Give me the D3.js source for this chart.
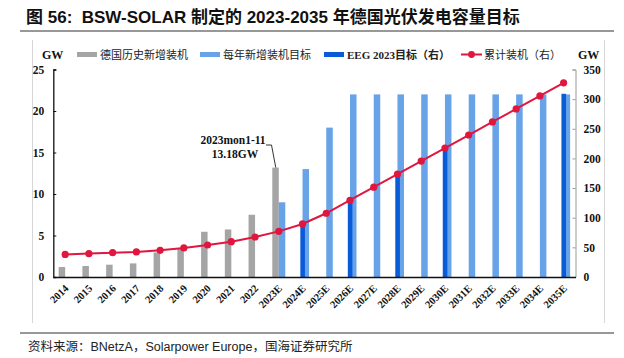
<!DOCTYPE html>
<html><head><meta charset="utf-8">
<script src="https://cdn.jsdelivr.net/npm/d3@7"></script>
<style>
html,body{margin:0;padding:0;background:#fff;}
svg{display:block;}
</style>
</head><body>
<svg id="c" width="624" height="358"></svg>
<script>
const categories = ["2014","2015","2016","2017","2018","2019","2020","2021","2022","2023E","2024E","2025E","2026E","2027E","2028E","2029E","2030E","2031E","2032E","2033E","2034E","2035E"];
const historicalAdds = [1.2,1.33,1.48,1.64,2.96,3.4,5.45,5.73,7.5,13.18,null,null,null,null,null,null,null,null,null,null,null,null];
const annualTargets = [null,null,null,null,null,null,null,null,null,9,13,18,22,22,22,22,22,22,22,22,22,22];
const eegTargets = [null,null,null,null,null,null,null,null,null,null,88,null,128,null,172,null,215,null,null,null,null,309];
const cumulative = [38,39.5,41,42.3,45,49,54,59.6,67.5,77,89.5,107.5,129.5,151.5,173.5,195.5,217.5,239.5,261.5,283.5,305.5,327.5];
const leftTicks = [0,5,10,15,20,25];
const rightTicks = [0,50,100,150,200,250,300,350];
const legendLabels = ["德国历史新增装机","每年新增装机目标","EEG 2023目标（右）","累计装机（右）"];
const titleText = "图 56:  BSW-SOLAR 制定的 2023-2035 年德国光伏发电容量目标";
const sourceText = "资料来源：BNetzA，Solarpower Europe，国海证券研究所";
const annotationLines = ["2023mon1-11","13.18GW"];

const C = {gray:"#a5a5a5", light:"#67a3e6", dark:"#0a5bd8", red:"#e0163f"};
const serif = "'Liberation Serif','Times New Roman',serif";
const cjk = "'Liberation Serif','Noto Sans CJK SC',serif";
const sans = "'Liberation Sans','Noto Sans CJK SC',sans-serif";

const svg = d3.select("#c");
const x0 = 53.3, x1 = 575.5, yBot = 277, yTop = 69.5;
const x = d3.scaleBand().domain(categories).range([x0, x1]).padding(0);
const yL = d3.scaleLinear().domain([0,25]).range([yBot, yTop]);
const yR = d3.scaleLinear().domain([0,350]).range([yBot, yTop]);
const cx = c => x(c) + x.bandwidth()/2;

// title & frame lines
svg.append("text").attr("x",26).attr("y",23).attr("font-family",sans).attr("font-weight","bold")
  .attr("font-size",17).attr("fill","#111").attr("xml:space","preserve").text(titleText);
svg.append("line").attr("x1",20).attr("x2",614).attr("y1",31).attr("y2",31).attr("stroke","#333").attr("stroke-width",1.2);
svg.append("line").attr("x1",20).attr("x2",614).attr("y1",333).attr("y2",333).attr("stroke","#333").attr("stroke-width",1.2);
svg.append("line").attr("x1",32.5).attr("x2",32.5).attr("y1",40).attr("y2",323).attr("stroke","#d6d6d6");
svg.append("line").attr("x1",604.5).attr("x2",604.5).attr("y1",40).attr("y2",323).attr("stroke","#d6d6d6");
svg.append("text").attr("x",28).attr("y",351).attr("font-family",sans).attr("font-size",12.5).attr("fill","#222").text(sourceText);

const bw = 6.5;
// gray historical
svg.append("g").selectAll("rect").data(categories.map((c,i)=>({c,v:historicalAdds[i]})).filter(d=>d.v!=null))
 .join("rect").attr("x",d=>cx(d.c)-bw).attr("width",bw).attr("y",d=>yL(d.v)).attr("height",d=>yBot-yL(d.v)).attr("fill",C.gray);
// light blue targets
svg.append("g").selectAll("rect").data(categories.map((c,i)=>({c,v:annualTargets[i]})).filter(d=>d.v!=null))
 .join("rect").attr("x",d=>cx(d.c)).attr("width",bw).attr("y",d=>yL(d.v)).attr("height",d=>yBot-yL(d.v)).attr("fill",C.light);
// dark blue EEG (right axis)
svg.append("g").selectAll("rect").data(categories.map((c,i)=>({c,v:eegTargets[i]})).filter(d=>d.v!=null))
 .join("rect").attr("x",d=>cx(d.c)-2.2).attr("width",4.6).attr("y",d=>yR(d.v)).attr("height",d=>yBot-yR(d.v)).attr("fill",C.dark);

// axes
const axL = svg.append("g").attr("transform",`translate(${x0},0)`)
  .call(d3.axisRight(yL).tickValues(leftTicks).tickSize(3).tickFormat(d3.format("d")));
axL.select(".domain").attr("stroke","#111").attr("stroke-width",1.3);
axL.selectAll(".tick line").attr("stroke","#111");
axL.selectAll(".tick text").attr("x",-9).attr("text-anchor","end").attr("font-family",serif).attr("font-weight","bold").attr("font-size",11.5).attr("fill","#111");

const axR = svg.append("g").attr("transform",`translate(${x1},0)`)
  .call(d3.axisLeft(yR).tickValues(rightTicks).tickSize(3).tickFormat(d3.format("d")));
axR.select(".domain").attr("stroke","#999");
axR.selectAll(".tick line").attr("stroke","#999");
axR.selectAll(".tick text").attr("x",8).attr("text-anchor","start").attr("font-family",serif).attr("font-weight","bold").attr("font-size",11.5).attr("fill","#111");

const axB = svg.append("g").attr("transform",`translate(0,${yBot})`)
  .call(d3.axisBottom(x).tickSize(0));
axB.select(".domain").attr("stroke","#111").attr("stroke-width",1.3);
axB.selectAll(".tick text").attr("font-family",serif).attr("font-weight","bold").attr("font-size",10.5).attr("fill","#111")
  .attr("text-anchor","end").attr("dy",0).attr("y",0)
  .attr("transform","translate(4,12) rotate(-45)");

// red cumulative line
const line = d3.line().x((d,i)=>cx(categories[i])).y(d=>yR(d));
svg.append("path").datum(cumulative).attr("d",line).attr("fill","none").attr("stroke",C.red).attr("stroke-width",2);
svg.append("g").selectAll("circle").data(cumulative).join("circle")
  .attr("cx",(d,i)=>cx(categories[i])).attr("cy",d=>yR(d)).attr("r",3.6).attr("fill",C.red);

// axis units
svg.append("text").attr("x",42).attr("y",59).attr("font-family",serif).attr("font-weight","bold").attr("font-size",12).attr("fill","#111").text("GW");
svg.append("text").attr("x",578).attr("y",59).attr("font-family",serif).attr("font-weight","bold").attr("font-size",12).attr("fill","#111").text("GW");

// legend
const ly = 55;
const leg = [
 {x:77, type:"rect", color:C.gray, label:legendLabels[0]},
 {x:200, type:"rect", color:C.light, label:legendLabels[1]},
 {x:324, type:"rect", color:C.dark, label:legendLabels[2]},
 {x:461, type:"line", color:C.red, label:legendLabels[3]}
];
leg.forEach(l=>{
  if(l.type==="rect"){
    svg.append("rect").attr("x",l.x).attr("y",ly-3).attr("width",20).attr("height",5).attr("fill",l.color);
  } else {
    svg.append("line").attr("x1",l.x).attr("x2",l.x+21).attr("y1",ly-0.5).attr("y2",ly-0.5).attr("stroke",l.color).attr("stroke-width",2);
    svg.append("circle").attr("cx",l.x+10.5).attr("cy",ly-0.5).attr("r",3.4).attr("fill",l.color);
  }
  svg.append("text").attr("x",l.x+23).attr("y",ly+4).attr("font-family",cjk).attr("font-size",11).attr("font-weight", l.type==="rect" && l.color===C.dark ? "bold":"normal").attr("fill","#222").text(l.label);
});

// annotation
const ax = cx("2023E"), ayTop = yL(historicalAdds[9]);
svg.append("text").attr("x",233).attr("y",144).attr("text-anchor","middle").attr("font-family",serif).attr("font-weight","bold").attr("font-size",11.5).attr("fill","#111").text(annotationLines[0]);
svg.append("text").attr("x",235).attr("y",158).attr("text-anchor","middle").attr("font-family",serif).attr("font-weight","bold").attr("font-size",11.5).attr("fill","#111").text(annotationLines[1]);
svg.append("path").attr("d",`M266,145 L271.5,145 L${ax-3},${ayTop}`).attr("fill","none").attr("stroke","#333").attr("stroke-width",1);
</script>
</body></html>
